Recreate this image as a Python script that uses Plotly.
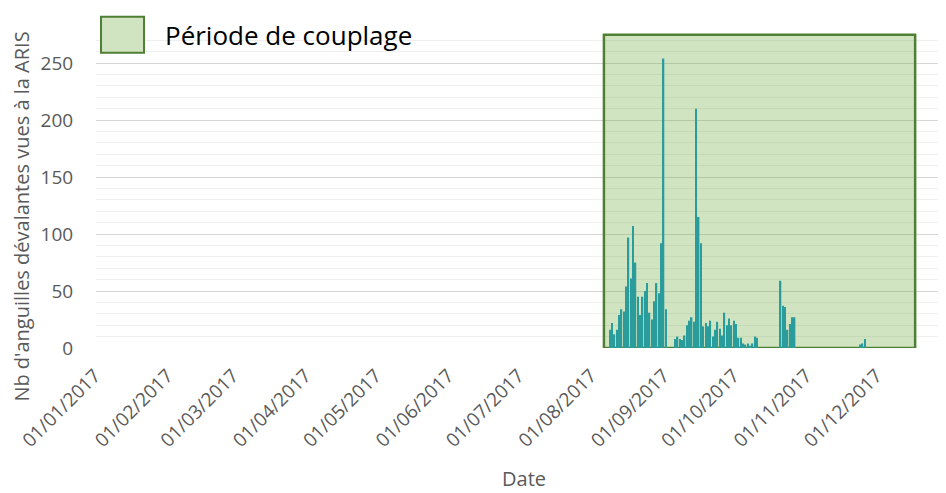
import plotly.graph_objects as go
import pandas as pd

# ---- data ----
group1_start = "2017-08-06"
group1_counts = [16, 22, 12, 16, 29, 34, 32, 54, 97, 61, 107, 75, 45, 29, 45, 50, 57,
                 31, 25, 41, 57, 48, 92, 254, 34]
group2_start = "2017-09-03"
group2_counts = [8, 10, 8, 7, 11, 20, 24, 27, 23, 210, 115, 92, 19, 22, 19, 24, 10, 16,
                 23, 17, 11, 31, 20, 26, 20, 24, 21, 9, 9, 4, 3, 4, 2, 4, 10, 9]
group3_start = "2017-10-18"
group3_counts = [59, 37, 36, 16, 21, 27, 27]
group4_start = "2017-11-21"
group4_counts = [3, 4, 8]

period_start = "2017-08-04"
period_end = "2017-12-14"
period_value = 275
period_label = "Période de couplage"

tick_dates = ["2017-%02d-01" % m for m in range(1, 13)]
tick_labels = ["01/%02d/2017" % m for m in range(1, 13)]

y_title = "Nb d'anguilles dévalantes vues à la ARIS"
x_title = "Date"

# ---- build series ----
dates, counts = [], []
for start, vals in [(group1_start, group1_counts), (group2_start, group2_counts),
                    (group3_start, group3_counts), (group4_start, group4_counts)]:
    d = pd.date_range(start, periods=len(vals), freq="D")
    dates += list(d)
    counts += vals

DAY_MS = 24 * 3600 * 1000
p0 = pd.Timestamp(period_start) - pd.Timedelta(hours=12)
p1 = pd.Timestamp(period_end) + pd.Timedelta(hours=12)
p_mid = p0 + (p1 - p0) / 2
p_width = (p1 - p0).total_seconds() * 1000

FONT = "Open Sans"
GRAY = "#595959"

fig = go.Figure()
fig.add_trace(go.Bar(
    x=[p_mid], y=[period_value], width=[p_width],
    marker=dict(color="rgba(112,173,71,0.33)", line=dict(color="#4f7f35", width=2.5)),
    name=period_label, showlegend=False, hoverinfo="skip",
))
fig.add_trace(go.Bar(
    x=dates, y=counts, width=[0.6 * DAY_MS] * len(dates),
    marker=dict(color="#2a9c9c", line=dict(width=0)),
    name="Nb", showlegend=False,
))

left = pd.Timestamp("2017-01-01") - pd.Timedelta(days=2.56)
right = left + pd.Timedelta(days=363.25)

# page body has an 8px margin: the figure is sized/offset to compensate
fig.update_layout(
    width=938, height=485,
    margin=dict(l=88, r=0, t=21, b=145, autoexpand=False),
    paper_bgcolor="white", plot_bgcolor="white",
    barmode="overlay",
    font=dict(family=FONT, color=GRAY, size=19),
    xaxis=dict(
        type="date", range=[left, right],
        tickvals=tick_dates, ticktext=tick_labels, tickangle=-45,
        tickfont=dict(size=19, color=GRAY),
        showgrid=False, zeroline=False, showline=False,
        ticks="outside", ticklen=8, tickcolor="rgba(0,0,0,0)",
        ticklabelshift=-7,
        automargin=False,
    ),
    yaxis=dict(
        range=[0, 280], tickvals=[0, 50, 100, 150, 200, 250],
        tickfont=dict(size=19, color=GRAY),
        showgrid=True, gridcolor="#d6d6d6", gridwidth=1.3,
        minor=dict(dtick=10, showgrid=True, gridcolor="#efefef", gridwidth=1.3),
        zeroline=False, showline=False,
        ticks="outside", ticklen=18, tickcolor="rgba(0,0,0,0)",
        automargin=False,
    ),
    shapes=[dict(
        type="rect", xref="paper", yref="paper",
        x0=0.0059, x1=0.0565, y0=0.9257, y1=1.0386,
        fillcolor="#d0e4c2", line=dict(color="#4f7f35", width=2), layer="above",
    )],
    annotations=[
        dict(text=period_label, xref="paper", yref="paper", x=0.0788, y=0.982,
             xanchor="left", yanchor="middle", showarrow=False,
             font=dict(family=FONT, size=26, color="#000000")),
        dict(text=y_title, xref="paper", yref="paper", x=-0.087, y=0.412,
             xanchor="center", yanchor="middle", textangle=-90, showarrow=False,
             font=dict(family=FONT, size=20, color=GRAY)),
        dict(text=x_title, xref="paper", yref="paper", x=0.5035, y=-0.41,
             xanchor="center", yanchor="middle", showarrow=False,
             font=dict(family=FONT, size=20, color=GRAY)),
    ],
)

fig.write_html("out.html")
